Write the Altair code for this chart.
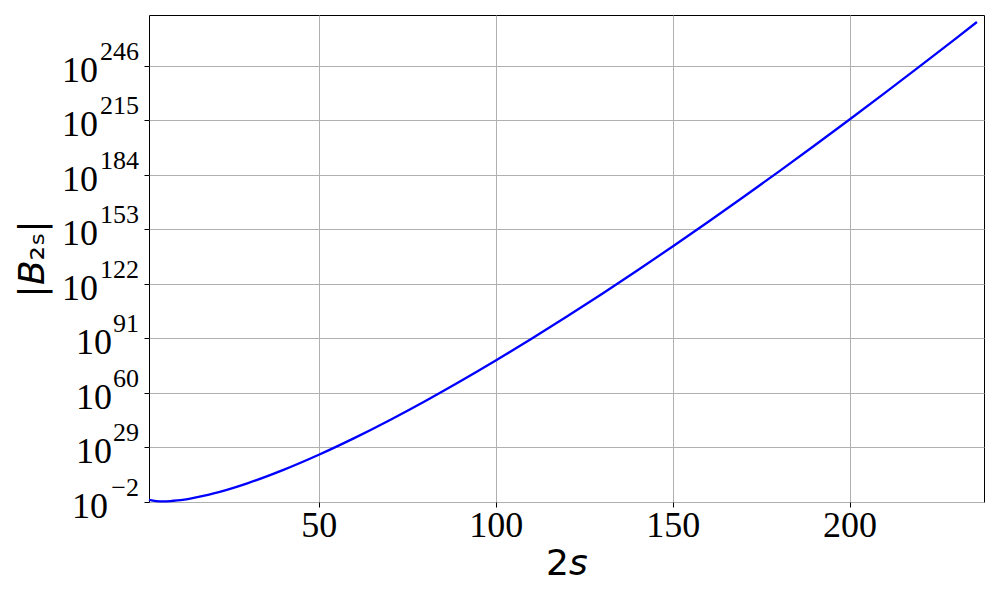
import altair as alt
import pandas as pd

# 2s values and |B_2s|
two_s = [2, 4, 6, 8, 10, 12, 14, 16, 18, 20, 24, 30, 40, 50, 60, 70, 80, 90, 100,
         110, 120, 130, 140, 150, 160, 170, 180, 190, 200, 210, 220, 230, 236]
abs_b = [1.67e-1, 3.33e-2, 2.38e-2, 3.33e-2, 7.58e-2, 2.53e-1, 1.17, 7.09, 5.50e1,
         5.29e2, 8.66e4, 6.02e8, 1.93e16, 7.50e24, 2.14e34, 3.21e44, 2.00e55,
         4.34e66, 2.84e78, 5.04e90, 2.21e103, 2.22e116, 4.85e129, 2.14e143,
         1.85e157, 2.96e171, 8.51e185, 4.30e200, 3.65e215, 5.11e230, 1.15e246,
         4.06e261, 1.07e271]
y_ticks = [1e-2, 1e29, 1e60, 1e91, 1e122, 1e153, 1e184, 1e215, 1e246]
x_ticks = [50, 100, 150, 200]

df = pd.DataFrame({"s": two_s, "b": abs_b})
tdf = pd.DataFrame({"v": y_ticks})

xs = alt.Scale(domain=[2, 238], nice=False, zero=False)
ys = alt.Scale(type="log", domain=[1e-2, 1e275], nice=False)
yaxis = alt.Axis(values=y_ticks, labels=False, title="|\U0001D609\u2082\u209B|",
                 titlePadding=92, grid=True, ticks=True)

line = alt.Chart(df).mark_line(color="#0000ff", strokeWidth=2.3, interpolate="monotone").encode(
    x=alt.X("s:Q", scale=xs,
            axis=alt.Axis(values=x_ticks, title="2\U0001D634", labelPadding=1, titlePadding=3,
                          format="d")),
    y=alt.Y("b:Q", scale=ys, axis=yaxis),
)

base_t = alt.Chart(tdf).transform_calculate(
    e="round(log(datum.v)/LN10)"
).transform_calculate(
    lab="datum.e < 0 ? '\u2212' + abs(datum.e) : '' + datum.e"
)

exp_text = base_t.mark_text(align="right", baseline="alphabetic", dy=-6,
                            font="Liberation Serif", fontSize=26, color="black").encode(
    x=alt.value(-10),
    y=alt.Y("v:Q", scale=ys, axis=yaxis),
    text="lab:N",
)

def ten_layer(cond, xpos):
    return base_t.transform_filter(cond).mark_text(
        align="right", baseline="alphabetic", dy=16,
        font="Liberation Serif", fontSize=36, color="black").encode(
        x=alt.value(xpos),
        y=alt.Y("v:Q", scale=ys, axis=yaxis),
        text=alt.value("10"),
    )

ten3 = ten_layer("length(datum.lab) == 3", -51)
ten2 = ten_layer("length(datum.lab) == 2 && datum.e >= 0", -37)
tenm = ten_layer("datum.e < 0", -41)

chart = alt.layer(line, exp_text, ten3, ten2, tenm).properties(
    width=835, height=487,
    padding={"left": 6, "top": 7, "right": 5, "bottom": 5},
).configure_view(
    stroke="black", strokeWidth=1
).configure_axis(
    grid=True, gridColor="#b0b0b0", gridWidth=1,
    domain=False, ticks=True, tickColor="black", tickSize=5, tickWidth=1,
    labelFont="Liberation Serif", labelFontSize=36, labelColor="black",
    titleFont="DejaVu Sans", titleFontSize=36, titleFontWeight="normal", titleColor="black",
)

chart.save("out.html", embed_options={"renderer": "svg", "actions": False})
